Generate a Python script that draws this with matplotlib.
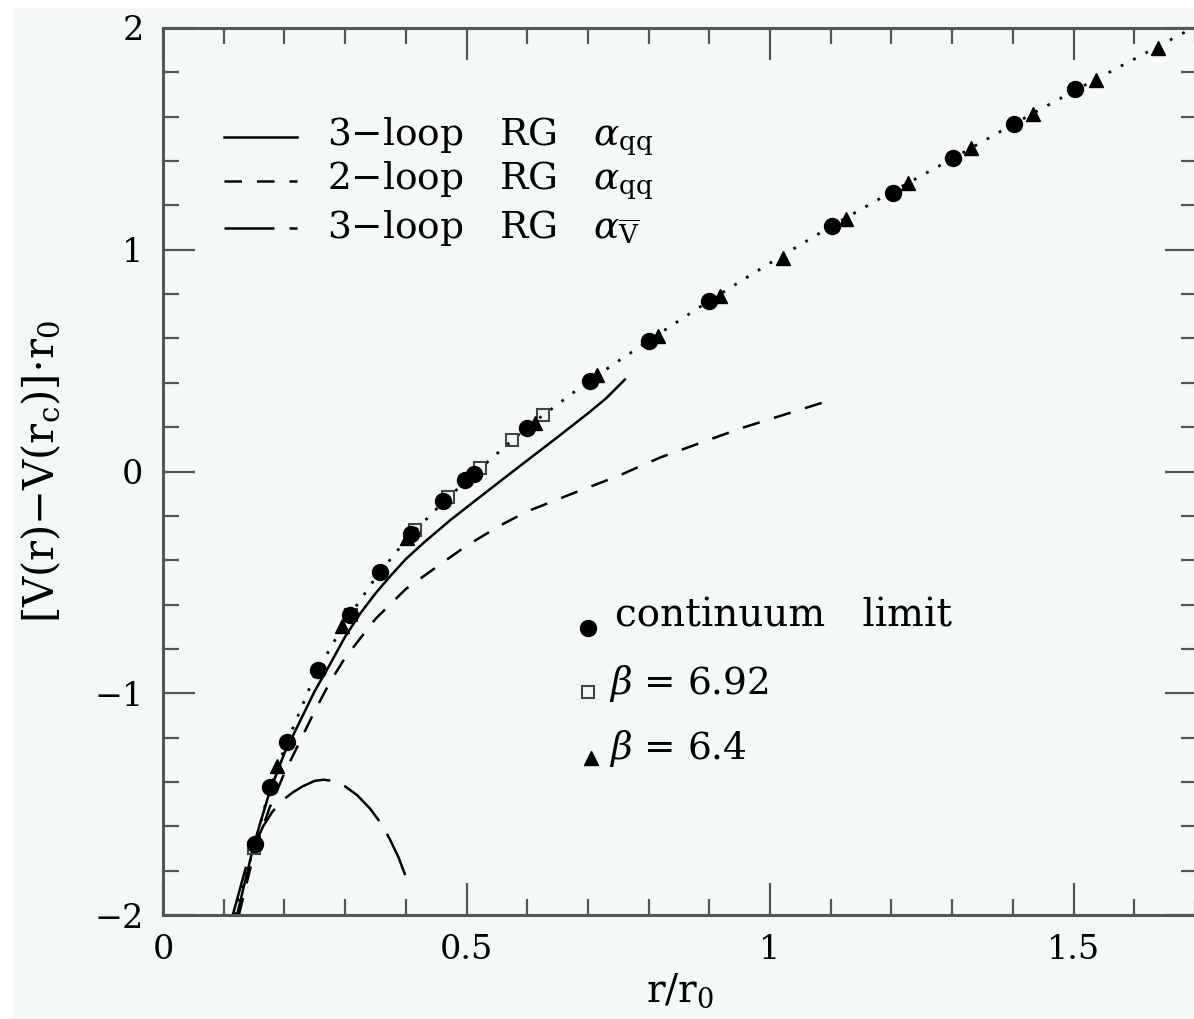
import matplotlib.pyplot as plt
from matplotlib.patches import Rectangle
from matplotlib.ticker import MultipleLocator

plt.rcParams['font.family'] = 'DejaVu Serif'
plt.rcParams['mathtext.fontset'] = 'dejavuserif'

# continuum limit (filled circles)
cont_r = [0.152, 0.176, 0.204, 0.255, 0.308, 0.357, 0.408, 0.461, 0.497, 0.513,
          0.600, 0.703, 0.800, 0.900, 1.102, 1.203, 1.302, 1.402, 1.502]
cont_v = [-1.68, -1.425, -1.222, -0.895, -0.645, -0.455, -0.28, -0.135, -0.04, -0.01,
          0.195, 0.41, 0.59, 0.77, 1.105, 1.258, 1.412, 1.565, 1.723]

# beta = 6.92 (open squares)
b692_r = [0.150, 0.310, 0.415, 0.470, 0.522, 0.575, 0.626]
b692_v = [-1.70, -0.645, -0.262, -0.115, 0.016, 0.14, 0.255]

# beta = 6.4 (filled triangles)
b64_r = [0.188, 0.295, 0.402, 0.613, 0.715, 0.815, 0.918, 1.021, 1.125, 1.228,
         1.331, 1.433, 1.537, 1.639]
b64_v = [-1.33, -0.695, -0.30, 0.22, 0.433, 0.613, 0.79, 0.965, 1.14, 1.30,
         1.457, 1.61, 1.764, 1.912]

# dotted interpolation through the data
fit_r = [0.119, 0.15, 0.176, 0.2, 0.25, 0.3, 0.35, 0.4, 0.45, 0.5, 0.6, 0.7,
         0.8, 0.9, 1.0, 1.1, 1.2, 1.3, 1.4, 1.5, 1.6, 1.71]
fit_v = [-2.0, -1.69, -1.43, -1.25, -0.92, -0.68, -0.48, -0.31, -0.17, -0.04, 0.20, 0.405,
         0.59, 0.77, 0.94, 1.105, 1.26, 1.41, 1.565, 1.715, 1.86, 2.02]

# 3-loop RG alpha_qq (solid)
rg3_r = [0.122, 0.135, 0.15, 0.175, 0.2, 0.225, 0.25, 0.275, 0.3, 0.325, 0.35, 0.375,
         0.4, 0.43, 0.473, 0.515, 0.555, 0.6, 0.65, 0.7, 0.73, 0.761]
rg3_v = [-2.0, -1.85, -1.68, -1.45, -1.27, -1.13, -0.99, -0.87, -0.745, -0.64, -0.55, -0.47,
         -0.395, -0.32, -0.22, -0.13, -0.045, 0.05, 0.155, 0.262, 0.33, 0.415]

# 2-loop RG alpha_qq (dashed)
rg2_r = [0.125, 0.15, 0.175, 0.2, 0.225, 0.25, 0.275, 0.3, 0.35, 0.4, 0.456, 0.5,
         0.555, 0.6, 0.687, 0.75, 0.819, 0.951, 1.086]
rg2_v = [-2.0, -1.72, -1.52, -1.36, -1.22, -1.08, -0.95, -0.84, -0.665, -0.53, -0.42, -0.335,
         -0.244, -0.18, -0.086, -0.02, 0.063, 0.194, 0.31]

# 3-loop RG alpha_Vbar (long dashed)
rgv_r = [0.115, 0.125, 0.138, 0.15, 0.165, 0.18, 0.198, 0.215, 0.23, 0.25, 0.264,
         0.28, 0.3, 0.32, 0.341, 0.36, 0.374, 0.388, 0.399]
rgv_v = [-2.0, -1.9, -1.77, -1.69, -1.6, -1.535, -1.48, -1.445, -1.42, -1.395, -1.39,
         -1.395, -1.42, -1.46, -1.52, -1.59, -1.66, -1.74, -1.82]

W, H = 1194, 1019
fig = plt.figure(figsize=(W / 100, H / 100), dpi=100)
fig.patch.set_facecolor('white')
bg = '#f4f9f6'
fig.patches.append(Rectangle((13 / W, 0), 1, 1 - 8 / H, transform=fig.transFigure,
                             facecolor=bg, edgecolor='none', zorder=-10))

ax = fig.add_axes([163 / W, 1 - 915 / H, (1197 - 163) / W, 887 / H])
ax.set_facecolor(bg)
ax.set_xlim(0, (1197 - 163) / 607)
ax.set_ylim(-2, 2)

ax.plot(fit_r, fit_v, color='black', lw=2, linestyle=(0, (1, 4)))
ax.plot(rg3_r, rg3_v, color='black', lw=1.8)
ax.plot(rg2_r, rg2_v, color='black', lw=1.8, linestyle=(0, (7, 6)))
ax.plot(rgv_r, rgv_v, color='black', lw=1.8, linestyle=(0, (20, 6)))

ax.plot(b692_r, b692_v, 's', ms=8, mfc='none', mec='#444444', mew=1.5)
ax.plot(b64_r, b64_v, '^', ms=10, color='black')
ax.plot(cont_r, cont_v, 'o', ms=11.5, color='black')

# legend for the curves
leg_y = [1.51, 1.31, 1.10]
leg_txt = [r'3$-$loop   RG   $\alpha_{\rm qq}$',
           r'2$-$loop   RG   $\alpha_{\rm qq}$',
           r'3$-$loop   RG   $\alpha_{\overline{\rm V}}$']
leg_ls = ['-', (0, (7, 6)), (0, (20, 6))]
for yy, txt, ls in zip(leg_y, leg_txt, leg_ls):
    ax.plot([0.1, 0.22], [yy, yy], color='black', lw=1.8, linestyle=ls)
    ax.text(0.27, yy, txt, fontsize=27, va='center', ha='left')

# legend for the data
ax.plot([0.7], [-0.705], 'o', ms=11.5, color='black')
ax.plot([0.7], [-0.995], 's', ms=8, mfc='none', mec='#444444', mew=1.5)
ax.plot([0.705], [-1.29], '^', ms=10, color='black')
ax.text(0.745, -0.65, 'continuum   limit', fontsize=28, va='center', ha='left')
ax.text(0.735, -0.955, r'$\beta$ = 6.92', fontsize=27, va='center', ha='left')
ax.text(0.735, -1.25, r'$\beta$ = 6.4', fontsize=27, va='center', ha='left')

ax.set_xticks([0, 0.5, 1, 1.5])
ax.set_xticklabels(['0', '0.5', '1', '1.5'])
ax.set_yticks([-2, -1, 0, 1, 2])
ax.set_yticklabels(['\u22122', '\u22121', '0', '1', '2'])
ax.xaxis.set_minor_locator(MultipleLocator(0.1))
ax.yaxis.set_minor_locator(MultipleLocator(0.2))
ax.tick_params(which='both', direction='in', top=True, right=True, color='#555555',
               width=1.6, labelsize=24, pad=14)
ax.tick_params(which='major', length=23)
ax.tick_params(which='minor', length=11.5)
for s in ax.spines.values():
    s.set_color('#555555')
    s.set_linewidth(2.2)

ax.set_xlabel(r'r/r$_0$', fontsize=28, labelpad=4)
ax.set_ylabel(r'[V(r)$-$V(r$_{\rm c}$)]$\cdot$r$_0$', fontsize=30, labelpad=22)

fig.savefig('out.png', dpi=100, facecolor=fig.get_facecolor())
